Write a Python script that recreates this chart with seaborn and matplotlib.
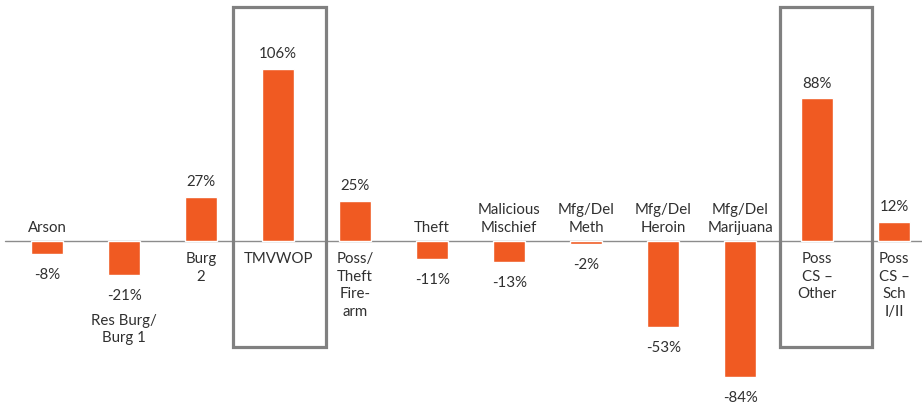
import numpy as np
import pandas as pd
import matplotlib
matplotlib.use('Agg')
import matplotlib.pyplot as plt
import matplotlib.patches as patches
import seaborn as sns

# data
categories = ['Arson', 'Res Burg/\nBurg 1', 'Burg\n2', 'TMVWOP', 'Poss/\nTheft\nFire-\narm',
              'Theft', 'Malicious\nMischief', 'Mfg/Del\nMeth', 'Mfg/Del\nHeroin',
              'Mfg/Del\nMarijuana', 'Poss\nCS \u2013\nOther', 'Poss\nCS \u2013\nSch\nI/II']
values = [-8, -21, 27, 106, 25, -11, -13, -2, -53, -84, 88, 12]
highlighted = ['TMVWOP', 'Poss\nCS \u2013\nOther']
box_left = [-0.58, -0.49]   # box left edge relative to bar centre

sns.set_style('white')
plt.rcParams['font.family'] = ['Lato', 'DejaVu Sans']

bar_color = '#F05A22'
text_color = '#303030'
fs = 10.8

fig = plt.figure(figsize=(9.22, 4.06), dpi=100)
ax = fig.add_axes([0, 0, 1, 1])

df = pd.DataFrame({'cat': categories, 'val': values})
sns.barplot(data=df, x='cat', y='val', order=categories, color=bar_color,
            saturation=1, width=0.42, ax=ax)

ax.set_xlim(-0.61, 11.36)
ax.set_ylim(-101.2, 149.4)
ax.axis('off')
ax.axhline(0, xmin=5 / 922, xmax=1, color='#8c8c8c', lw=1, zorder=0)

for i, (cat, v) in enumerate(zip(categories, values)):
    if v >= 0:
        ax.annotate('%d%%' % v, (i, v), xytext=(0, 11.5), textcoords='offset points',
                    ha='center', va='center', fontsize=fs, color=text_color)
        ax.annotate(cat, (i, 0), xytext=(0, -7), textcoords='offset points',
                    ha='center', va='top', fontsize=fs, color=text_color, linespacing=1.35)
    else:
        ax.annotate('%d%%' % v, (i, v), xytext=(0, -14.4), textcoords='offset points',
                    ha='center', va='center', fontsize=fs, color=text_color)
        if cat.startswith('Res Burg'):
            ax.annotate(cat, (i, v), xytext=(0, -27), textcoords='offset points',
                        ha='center', va='top', fontsize=fs, color=text_color, linespacing=1.35)
        else:
            ax.annotate(cat, (i, 0), xytext=(0, 5), textcoords='offset points',
                        ha='center', va='bottom', fontsize=fs, color=text_color, linespacing=1.35)

for cat, dx in zip(highlighted, box_left):
    i = categories.index(cat)
    ax.add_patch(patches.Rectangle((i + dx, -65.5), 1.2, 210, fill=False,
                                   edgecolor='#808080', lw=2.3, zorder=5))

fig.savefig('out.png', dpi=100)
